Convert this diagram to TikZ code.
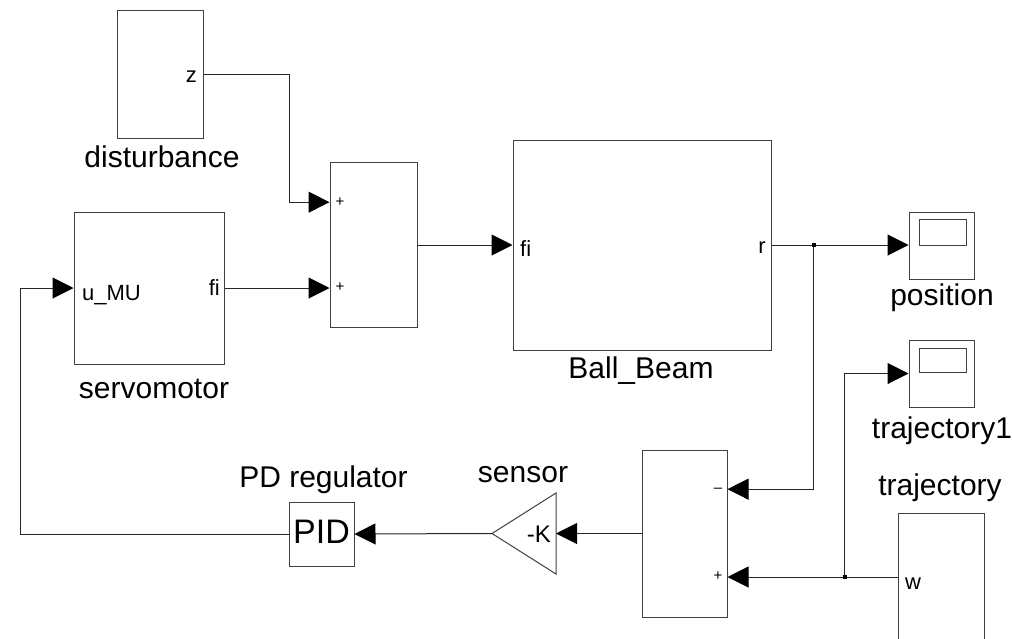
\documentclass[tikz,border=0pt]{standalone}
\usepackage{fontspec}
\setmainfont{Liberation Sans}
\usetikzlibrary{arrows.meta,calc}
\tikzset{
  blk/.style={draw=black!75, line width=1pt, rectangle, inner sep=0pt},
  conn/.style={draw=black!85, line width=1pt},
  arr/.style={conn, -{Triangle[length=21pt,width=21pt,fill=black,color=black]}},
  biglbl/.style={inner sep=0pt, font=\fontsize{30}{36}\selectfont, anchor=base},
  portlbl/.style={inner sep=0pt, font=\fontsize{22}{26}\selectfont},
  signlbl/.style={inner sep=0pt, font=\fontsize{15}{17}\selectfont},
  jdot/.style={fill=black, minimum size=4pt, inner sep=0pt, rectangle}
}
\begin{document}
\begin{tikzpicture}[x=1pt,y=-1pt]
\useasboundingbox (0,0) rectangle (1012,638);
% blocks
\node[blk, minimum width=86pt, minimum height=128pt] (dist) at (160,74) {};
\node[blk, minimum width=150pt, minimum height=152pt] (servo) at (149,288) {};
\node[blk, minimum width=87pt, minimum height=165pt] (sum1) at (373.5,244.5) {};
\node[blk, minimum width=258pt, minimum height=210pt] (bb) at (642,245) {};
\node[blk, minimum width=65pt, minimum height=67pt] (pos) at (941.5,245.5) {};
\node[blk, minimum width=47pt, minimum height=26pt] (posscr) at (942.5,232) {};
\node[blk, minimum width=65pt, minimum height=67pt] (traj1) at (941.5,373.5) {};
\node[blk, minimum width=47pt, minimum height=24pt] (traj1scr) at (942.5,360) {};
\node[blk, minimum width=85pt, minimum height=167pt] (sum2) at (684.5,533.5) {};
\node[blk, minimum width=86pt, minimum height=128pt] (traj) at (941,577) {};
\node[blk, minimum width=65pt, minimum height=64pt] (pid) at (321.5,534) {};
% gain triangle
\coordinate (gainL) at (492,533.5);
\coordinate (gainR) at (556,533.5);
\draw[draw=black!75, line width=1pt] (gainL) -- (556,493) -- (556,574) -- cycle;
% port coordinates
\coordinate (s1in1) at ($(sum1.north west)!0.245!(sum1.south west)$);
\coordinate (s1in2) at (sum1.west |- servo.east);
\coordinate (s2in1) at ($(sum2.north east)!0.236!(sum2.south east)$);
\coordinate (s2in2) at (sum2.east |- traj.west);
\coordinate (j1) at ($(bb.east)+(42,0)$);
\coordinate (j2) at ($(traj.west)+(-53,0)$);
% connectors
\draw[arr] (dist.east) -- ++(86,0) |- (s1in1);
\draw[arr] (servo.east) -- (s1in2);
\draw[arr] (sum1.east |- bb.west) -- (bb.west);
\draw[arr] (bb.east) -- (pos.west |- bb.east);
\draw[arr] (j1) |- (s2in1);
\draw[arr] (traj.west) -- (s2in2);
\draw[arr] (j2) |- (traj1.west);
\draw[arr] (sum2.west) -- (gainR);
\draw[arr] (gainL) -- (pid.east);
\draw[arr] (pid.west) -- ++(-268,0) |- (servo.west);
\node[jdot] at (j1) {};
\node[jdot] at (j2) {};
% port labels
\node[portlbl, anchor=base east] at (197,82) {z};
\node[portlbl, anchor=base west] at (82,300) {u\_MU};
\node[portlbl, anchor=base east] at (220,295) {fi};
\node[portlbl, anchor=base west] at (520,256) {fi};
\node[portlbl, anchor=base east] at (766,253) {r};
\node[portlbl, anchor=base west] at (905,589) {w};
\node[signlbl] at (340,202.5) {+};
\node[signlbl] at (340,287) {+};
\node[signlbl] at (718,490) {–};
\node[signlbl] at (718,576) {+};
\node[inner sep=0pt, anchor=base east, font=\fontsize{24}{28}\selectfont] at (551,542) {-K};
\node[inner sep=0pt, anchor=base, font=\fontsize{34}{40}\selectfont] at (pid.center |- 0,543) {PID};
% block labels
\node[biglbl] at (162,167) {disturbance};
\node[biglbl] at (154,398) {servomotor};
\node[biglbl] at (641,378) {Ball\_Beam};
\node[biglbl] at (942,305) {position};
\node[biglbl] at (942,438) {trajectory1};
\node[biglbl] at (940,495) {trajectory};
\node[biglbl] at (323.5,487) {PD regulator};
\node[biglbl] at (523,482) {sensor};
\end{tikzpicture}
\end{document}
